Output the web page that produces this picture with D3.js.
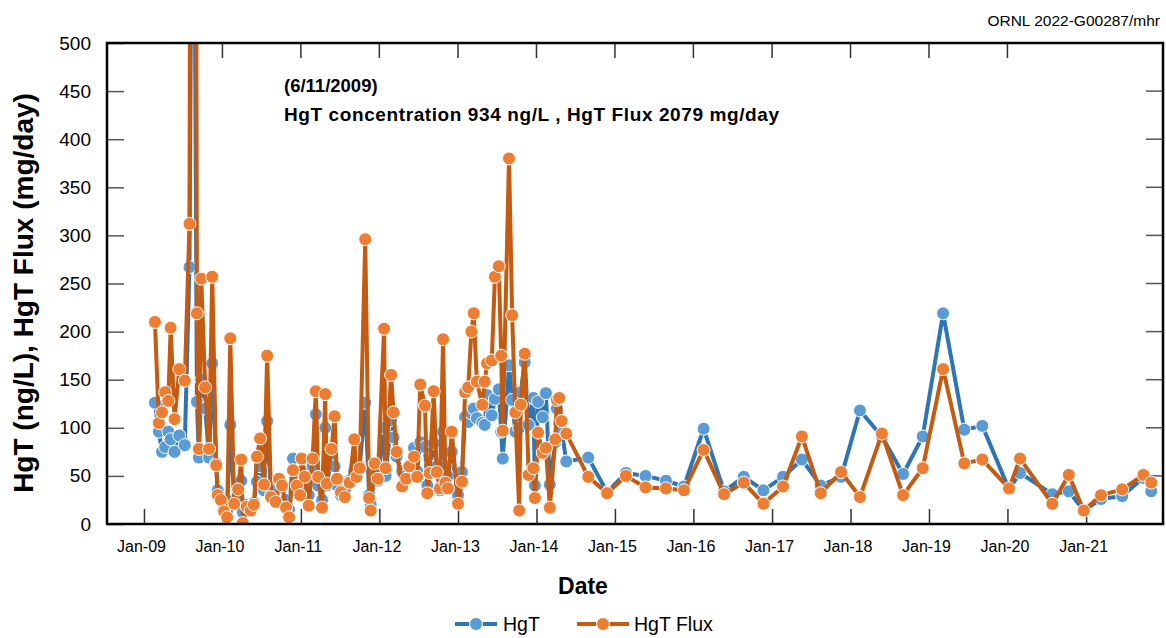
<!DOCTYPE html>
<html>
<head>
<meta charset="utf-8">
<script src="https://cdn.jsdelivr.net/npm/d3@7"></script>
<style>
	body { margin: 0; background: #fff; }
	text { font-family: "Liberation Sans", Arial, sans-serif; }
</style>
</head>
<body>
<div id="chart"></div>
<script>
// sample dates as decimal years
var dates = [
	2009.14, 2009.19, 2009.23, 2009.27, 2009.31, 2009.34, 2009.39, 2009.45, 2009.52, 2009.58,
	2009.625, 2009.675, 2009.70, 2009.73, 2009.78, 2009.83, 2009.87, 2009.92, 2009.94, 2009.98,
	2010.02, 2010.06, 2010.10, 2010.15, 2010.20, 2010.24, 2010.26, 2010.31, 2010.36, 2010.40,
	2010.44, 2010.48, 2010.53, 2010.57, 2010.62, 2010.68, 2010.72, 2010.76, 2010.81, 2010.85,
	2010.90, 2010.95, 2010.99, 2011.01, 2011.05, 2011.10, 2011.15, 2011.19, 2011.22, 2011.27,
	2011.31, 2011.33, 2011.39, 2011.43, 2011.46, 2011.51, 2011.56, 2011.62, 2011.68, 2011.71,
	2011.75, 2011.82, 2011.87, 2011.89, 2011.94, 2011.98, 2012.06, 2012.08, 2012.15, 2012.18,
	2012.22, 2012.29, 2012.34, 2012.38, 2012.44, 2012.48, 2012.52, 2012.58, 2012.61, 2012.64,
	2012.69, 2012.73, 2012.77, 2012.81, 2012.84, 2012.87, 2012.92, 2013.00, 2013.05, 2013.09,
	2013.13, 2013.17, 2013.20, 2013.24, 2013.31, 2013.34, 2013.37, 2013.43, 2013.47, 2013.52,
	2013.55, 2013.57, 2013.65, 2013.69, 2013.73, 2013.78, 2013.80, 2013.85, 2013.90, 2013.96,
	2013.98, 2014.02, 2014.08, 2014.12, 2014.17, 2014.24, 2014.26, 2014.29, 2014.32, 2014.38,
	2014.66, 2014.90, 2015.14, 2015.39, 2015.65, 2015.88, 2016.13, 2016.39, 2016.64, 2016.89,
	2017.14, 2017.38, 2017.62, 2017.88, 2018.12, 2018.40, 2018.67, 2018.92, 2019.18, 2019.45,
	2019.68, 2020.02, 2020.16, 2020.57, 2020.78, 2020.97, 2021.19, 2021.46, 2021.73, 2021.83
];
var hgt = [
	126, 96, 75, 80, 96, 88, 75, 92, 82, 267,
	934, 127, 69, 150, 120, 69, 167, 63, 35, 25,
	16, 14, 103, 25, 30, 45, 12, 20, 15, 22,
	44, 60, 35, 107, 30, 35, 45, 38, 25, 15,
	68, 35, 30, 55, 40, 30, 60, 114, 40, 25,
	100, 40, 70, 60, 40, 30, 35, 45, 55, 50,
	60, 126, 30, 20, 55, 45, 100, 50, 108, 90,
	70, 55, 50, 60, 79, 55, 85, 80, 40, 60,
	84, 60, 35, 96, 60, 50, 75, 30, 54, 111,
	106, 115, 120, 110, 105, 103, 134, 113, 130, 140,
	96, 68, 165, 129, 96, 100, 137, 168, 103, 131,
	40, 127, 111, 136, 41, 85, 120, 105, 98, 65,
	69, 33, 53, 50, 45, 39, 99, 34, 49, 35,
	49, 67, 40, 49, 118, 91, 52, 91, 219, 98,
	102, 36, 53, 31, 34, 14, 26, 29, 48, 34
];
var flux = [
	210, 105, 116, 137, 128, 204, 109, 161, 149, 312,
	2079, 219, 78, 255, 142, 78, 257, 61, 30, 25,
	13, 7, 193, 21, 36, 67, 1, 18, 14, 20,
	70, 89, 41, 175, 28, 23, 47, 40, 17, 7,
	56, 40, 30, 68, 49, 19, 68, 138, 49, 17,
	135, 42, 78, 112, 47, 33, 28, 43, 88, 49,
	58, 296, 27, 14, 63, 47, 203, 58, 155, 116,
	75, 39, 47, 60, 70, 49, 145, 123, 32, 53,
	138, 54, 37, 192, 43, 37, 96, 21, 44, 137,
	142, 200, 219, 148, 124, 148, 167, 170, 257, 268,
	175, 97, 380, 217, 116, 14, 124, 177, 51, 58,
	27, 95, 74, 79, 17, 88, 129, 131, 107, 94,
	49, 32, 50, 38, 37, 35, 77, 31, 43, 21,
	39, 91, 32, 54, 28, 94, 30, 58, 161, 63,
	67, 37, 68, 21, 51, 14, 30, 36, 51, 43
];
var yTicks = [0, 50, 100, 150, 200, 250, 300, 350, 400, 450, 500];
var tickYears = [2009, 2010, 2011, 2012, 2013, 2014, 2015, 2016, 2017, 2018, 2019, 2020, 2021];
var topTickYears = [2010, 2011, 2012, 2013, 2014, 2015, 2016, 2017, 2018, 2019, 2020];
var seriesNames = ["HgT", "HgT Flux"];

var width = 1166, height = 638,
	plot = { left: 107, right: 1163, top: 43, bottom: 524 },
	blueLine = "#2E75B6", blueDot = "#5B9BD5",
	orangeLine = "#C55A11", orangeDot = "#ED7D31";

function yearToDate(v) {
	var y = Math.floor(v);
	var a = new Date(y, 0, 1), b = new Date(y + 1, 0, 1);
	return new Date(+a + (v - y) * (b - a));
}

var rows = dates.map(function(d, i) {
	return { date: yearToDate(d), hgt: hgt[i], flux: flux[i] };
});

var x = d3.scaleTime()
	.domain([yearToDate(2008.53), yearToDate(2021.98)])
	.range([plot.left, plot.right]);
var y = d3.scaleLinear()
	.domain([0, 500])
	.range([plot.bottom, plot.top]);

var svg = d3.select("#chart").append("svg")
	.attr("width", width)
	.attr("height", height);

svg.append("defs").append("clipPath").attr("id", "clip")
	.append("rect")
	.attr("x", plot.left)
	.attr("y", plot.top)
	.attr("width", plot.right - plot.left)
	.attr("height", plot.bottom - plot.top);

// bottom axis, ticks pointing in
var xAxis = svg.append("g")
	.attr("transform", "translate(0," + plot.bottom + ")")
	.call(d3.axisBottom(x)
		.tickValues(tickYears.map(function(d) { return new Date(d, 0, 1); }))
		.tickFormat(d3.timeFormat("%b-%y"))
		.tickSizeInner(-15).tickSizeOuter(0).tickPadding(17));
xAxis.select(".domain").remove();
xAxis.selectAll("line").attr("stroke", "#333").attr("stroke-width", 1.5);
xAxis.selectAll("text").attr("font-size", 16).attr("fill", "#000").attr("dx", -3);

var yAxis = svg.append("g")
	.attr("transform", "translate(" + plot.left + ",0)")
	.call(d3.axisLeft(y)
		.tickValues(yTicks)
		.tickSizeInner(-17).tickSizeOuter(0).tickPadding(16));
yAxis.select(".domain").remove();
yAxis.selectAll("line").attr("stroke", "#555").attr("stroke-width", 1.5);
yAxis.selectAll("text").attr("font-size", 19).attr("fill", "#000");

// mirrored ticks on top and right
svg.append("g").selectAll("line")
	.data(topTickYears).enter().append("line")
	.attr("x1", function(d) { return x(new Date(d, 0, 1)); })
	.attr("x2", function(d) { return x(new Date(d, 0, 1)); })
	.attr("y1", plot.top)
	.attr("y2", plot.top + 15)
	.attr("stroke", "#333").attr("stroke-width", 1.5);
svg.append("g").selectAll("line")
	.data(yTicks).enter().append("line")
	.attr("x1", plot.right)
	.attr("x2", plot.right - 17)
	.attr("y1", function(d) { return y(d); })
	.attr("y2", function(d) { return y(d); })
	.attr("stroke", "#555").attr("stroke-width", 1.5);

// series
var plotArea = svg.append("g").attr("clip-path", "url(#clip)");

function drawSeries(key, lineColor, dotColor) {
	var line = d3.line()
		.x(function(d) { return x(d.date); })
		.y(function(d) { return y(d[key]); });
	plotArea.append("path")
		.datum(rows)
		.attr("fill", "none")
		.attr("stroke", lineColor)
		.attr("stroke-width", 4)
		.attr("stroke-linejoin", "round")
		.attr("d", line);
	plotArea.append("g").selectAll("circle")
		.data(rows.filter(function(d) { return d[key] <= 500; }))
		.enter().append("circle")
		.attr("cx", function(d) { return x(d.date); })
		.attr("cy", function(d) { return y(d[key]); })
		.attr("r", 6.5)
		.attr("fill", dotColor)
		.attr("stroke", "#fff")
		.attr("stroke-width", 1);
}
drawSeries("hgt", blueLine, blueDot);
drawSeries("flux", orangeLine, orangeDot);

// frame
svg.append("rect")
	.attr("x", plot.left)
	.attr("y", plot.top)
	.attr("width", plot.right - plot.left)
	.attr("height", plot.bottom - plot.top)
	.attr("fill", "none")
	.attr("stroke", "#000")
	.attr("stroke-width", 2.5);

// titles and notes
svg.append("text")
	.attr("transform", "translate(33,293) rotate(-90)")
	.attr("text-anchor", "middle")
	.attr("font-size", 28)
	.attr("font-weight", "bold")
	.text("HgT (ng/L), HgT Flux (mg/day)");

svg.append("text")
	.attr("x", 583)
	.attr("y", 594)
	.attr("text-anchor", "middle")
	.attr("font-size", 23)
	.attr("font-weight", "bold")
	.text("Date");

svg.append("text")
	.attr("x", 1160)
	.attr("y", 26)
	.attr("text-anchor", "end")
	.attr("font-size", 15.5)
	.text("ORNL 2022-G00287/mhr");

svg.append("text")
	.attr("x", 284)
	.attr("y", 92)
	.attr("font-size", 18.5)
	.attr("font-weight", "bold")
	.text("(6/11/2009)");
svg.append("text")
	.attr("x", 284)
	.attr("y", 121)
	.attr("font-size", 19)
	.attr("font-weight", "bold")
	.attr("textLength", 495)
	.attr("lengthAdjust", "spacing")
	.text("HgT concentration 934 ng/L , HgT Flux 2079 mg/day");

// legend
var legendItems = [
	{ name: seriesNames[0], line: blueLine, dot: blueDot, x0: 455, x1: 497, tx: 503 },
	{ name: seriesNames[1], line: orangeLine, dot: orangeDot, x0: 577, x1: 629, tx: 634 }
];
var legend = svg.append("g").attr("transform", "translate(0,624)");
legendItems.forEach(function(d) {
	legend.append("line")
		.attr("x1", d.x0).attr("x2", d.x1)
		.attr("stroke", d.line).attr("stroke-width", 4);
	legend.append("circle")
		.attr("cx", (d.x0 + d.x1) / 2).attr("r", 6.5)
		.attr("fill", d.dot).attr("stroke", "#fff").attr("stroke-width", 1);
	legend.append("text")
		.attr("x", d.tx).attr("y", 7)
		.attr("font-size", 19.5)
		.text(d.name);
});
</script>
</body>
</html>
